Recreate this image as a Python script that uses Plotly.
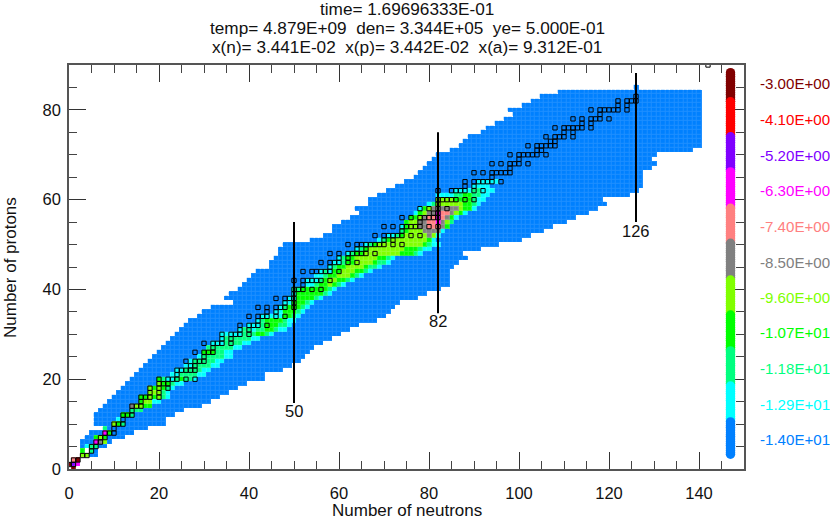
import numpy as np
import plotly.graph_objects as go

# ---- abundance legend ----
level_labels = ["-1.40E+01","-1.29E+01","-1.18E+01","-1.07E+01","-9.60E+00","-8.50E+00",
                "-7.40E+00","-6.30E+00","-5.20E+00","-4.10E+00","-3.00E+00"]
level_colors = ["#0080ff","#00ffff","#00ff80","#00ff00","#80ff00","#808080",
                "#ff8080","#ff00ff","#8000ff","#ff0000","#800000"]
level_soft = ["#1f8fff","#33ffff","#33ff99","#33ff33","#99ff33","#999999",
              "#ff9999","#ff33ff","#9933ff","#ff3333","#993333"]
level_label_z = [6.5,14.4,22.3,30.3,38.2,46.1,54.1,62.0,69.9,77.9,85.8]
level_bar_top = [10.5,18.5,26.3,34.3,42.1,50.3,58.1,66.2,74.0,81.8,88.3]
level_bar_bottom = 3.1

# ---- network extent: lowest / highest neutron number for each proton number ----
row_z = list(range(3, 85))
row_nmin = [3,3,3,3,4,5,8,6,6,6,7,8,9,10,11,12,13,14,15,16,17,18,19,20,21,22,23,24,25,26,27,29,30,32,
            37,35,36,38,39,40,41,42,45,45,46,47,47,48,54,57,59,59,61,63,65,64,67,67,69,71,73,75,77,78,
            79,80,81,82,85,87,88,89,92,93,95,97,99,98,101,103,105,109]
row_nmax = [6,6,8,9,12,14,17,21,21,23,25,29,31,33,35,37,39,43,43,47,49,51,52,53,54,56,58,60,62,64,68,
            70,71,72,73,77,79,82,84,84,84,84,85,86,88,87,91,95,100,102,105,107,110,112,115,117,119,118,
            124,126,127,127,127,127,129,130,129,130,138,140,140,140,140,140,140,140,140,140,140,140,140,140]
extra_cell = (85, 126)

# ---- mass-fraction level per cell: proton number -> (first neutron number, level codes)
# codes: 0-9, a = level index; W = empty cell
band_rows = {
 0:(1,"a"),1:(0,"a87"),2:(1,"6a"),3:(3,"44"),4:(3,"3W2"),5:(4,"122"),6:(6,"754"),7:(6,"343"),
 8:(8,"73"),9:(8,"2"),10:(10,"432"),11:(11,"1"),12:(12,"332"),13:(14,"222"),14:(14,"54433"),
 15:(16,"34411"),16:(16,"3343421"),17:(18,"44421"),18:(18,"434321"),19:(20,"433211"),
 20:(20,"321123221"),21:(23,"11222211"),22:(24,"11222211"),23:(26,"11222211"),24:(27,"12222211"),
 25:(29,"12222211"),26:(30,"3332211"),27:(31,"22222211"),28:(32,"111222211"),29:(34,"122222211"),
 30:(34,"111112223321"),31:(38,"12212233211"),32:(40,"1112333221"),33:(42,"123333211"),
 34:(43,"111113321"),35:(46,"1133321"),36:(47,"1233321"),37:(48,"1133321"),38:(49,"11333321"),
 39:(50,"133333321"),40:(50,"2233333321"),41:(53,"112334321"),42:(53,"11123443321"),
 43:(55,"11233444321"),44:(56,"121334443321"),45:(58,"123344443221"),46:(59,"1123344443221"),
 47:(60,"1233444443321"),48:(62,"12334444444433321"),49:(64,"12344444444333211"),
 50:(66,"12344444444443211"),51:(69,"1234444444431"),52:(71,"112344444541"),
 53:(74,"2344455551"),54:(74,"13445566653"),55:(75,"34455667542"),56:(76,"33456676531"),
 57:(77,"134557665431"),58:(78,"1345555554331"),59:(80,"124444443321"),
 60:(82,"44443333211"),61:(82,"111122332211"),62:(86,"111122111"),63:(90,"1111"),64:(91,"11111"),
}

# ---- stable isotopes: proton number -> neutron numbers ----
stable = {
 1:[0,1],2:[1,2],3:[3,4],4:[5],5:[5,6],6:[6,7],7:[7,8],8:[8,9,10],9:[10],10:[10,11,12],11:[12],
 12:[12,13,14],13:[14],14:[14,15,16],15:[16],16:[16,17,18,20],17:[18,20],18:[18,20,22],19:[20,21,22],
 20:[20,22,23,24,26,28],21:[24],22:[24,25,26,27,28],23:[27,28],24:[26,28,29,30],25:[30],26:[28,30,31,32],
 27:[32],28:[30,32,33,34,36],29:[34,36],30:[34,36,37,38,40],31:[38,40],32:[38,40,41,42,44],33:[42],
 34:[40,42,43,44,46,48],35:[44,46],36:[42,44,46,47,48,50],37:[48,50],38:[46,48,49,50],39:[50],
 40:[50,51,52,54,56],41:[52],42:[50,52,53,54,55,56,58],44:[52,54,55,56,57,58,60],45:[58],
 46:[56,58,59,60,62,64],47:[60,62],48:[58,60,62,63,64,65,66,68],49:[64,66],
 50:[62,64,65,66,67,68,69,70,72,74],51:[70,72],52:[68,70,71,72,73,74,76,78],53:[74],
 54:[70,72,74,75,76,77,78,80,82],55:[78],56:[74,76,78,79,80,81,82],57:[81,82],58:[78,80,82,84],59:[82],
 60:[82,83,84,85,86,88,90],62:[82,85,86,87,88,90,92],63:[88,90],64:[88,90,91,92,93,94,96],65:[94],
 66:[90,92,94,95,96,97,98],67:[98],68:[94,96,98,99,100,102],69:[100],70:[98,100,101,102,103,104,106],
 71:[104,105],72:[102,104,105,106,107,108],73:[107,108],74:[106,108,109,110,112],75:[110,112],
 76:[108,110,111,112,113,114,116],77:[114,116],78:[112,114,116,117,118,120],79:[118],
 80:[116,118,119,120,121,122,124],81:[122,124],82:[122,124,125,126],83:[126],90:[142],
}

# ---- closed neutron shells ----
magic_n = [50, 82, 126]
magic_low = [14.7, 34.7, 55.0]
magic_high = [55.0, 75.0, 88.2]
magic_label_z = [12.9, 33.0, 53.0]

title_lines = ["time= 1.69696333E-01",
               "temp= 4.879E+09\u00a0\u00a0den= 3.344E+05\u00a0\u00a0ye= 5.000E-01",
               "x(n)= 3.441E-02\u00a0\u00a0x(p)= 3.442E-02\u00a0\u00a0x(a)= 9.312E-01"]
title_px_y = [9, 28, 47]

# ---- figure geometry ----
W, H = 830, 519
L, R, T, B = 69, 744, 65, 469
X_RANGE, Y_RANGE = [0, 150], [0, 90]
FONT = "Liberation Sans"
INK = "#111111"

grid = np.full((Y_RANGE[1] + 1, X_RANGE[1] + 1), np.nan)
for z, a, b in zip(row_z, row_nmin, row_nmax):
    grid[z, a:b + 1] = 0
grid[extra_cell] = 0
for z, (start, codes) in band_rows.items():
    for k, c in enumerate(codes):
        grid[z, start + k] = np.nan if c == "W" else int(c, 16) if c != "a" else 10

n = len(level_colors)
def steps(cols):
    out = []
    for i, c in enumerate(cols):
        out += [[i / n, c], [(i + 1) / n, c]]
    return out

fig = go.Figure()
hm = dict(z=grid, x=np.arange(grid.shape[1]), y=np.arange(grid.shape[0]),
          zmin=-0.5, zmax=n - 0.5, showscale=False, hoverongaps=False)
fig.add_trace(go.Heatmap(colorscale=steps(level_soft), **hm))
fig.add_trace(go.Heatmap(colorscale=steps(level_colors), xgap=1, ygap=1, **hm))

sx = [v for z, ns in stable.items() for v in ns]
sy = [z for z, ns in stable.items() for _ in ns]
fig.add_trace(go.Scatter(x=sx, y=sy, mode="markers", showlegend=False,
                         marker=dict(symbol="square-open", size=4.3, color="#000000",
                                     line=dict(width=1, color="#000000"))))

for m, lo, hi in zip(magic_n, magic_low, magic_high):
    fig.add_trace(go.Scatter(x=[m, m], y=[lo, hi], mode="lines", showlegend=False,
                             line=dict(color="#000000", width=2)))

# legend bar: one stack of overlapping discs per level, drawn top level first
bar_x, bar_y, bar_c = [], [], []
lower = [level_bar_bottom] + level_bar_top[:-1]
for i in range(n - 1, -1, -1):
    zs = np.arange(level_bar_top[i], lower[i] - 0.01, -0.4)
    bar_x += [147.0] * len(zs)
    bar_y += list(zs)
    bar_c += [level_colors[i]] * len(zs)
fig.add_trace(go.Scatter(x=bar_x, y=bar_y, mode="markers", showlegend=False, cliponaxis=False,
                         marker=dict(symbol="circle", size=9.4, color=bar_c, line=dict(width=0))))

ann = []
for t, py in zip(title_lines, title_px_y):
    ann.append(dict(text=t, xref="paper", yref="paper", x=(407 - L) / (R - L),
                    y=(B - py) / (B - T), xanchor="center", yanchor="middle", showarrow=False,
                    borderpad=0, font=dict(family=FONT, size=17.2, color=INK)))
for m, z in zip(magic_n, magic_label_z):
    ann.append(dict(text=str(m), x=m, y=z, xref="x", yref="y", showarrow=False,
                    xanchor="center", yanchor="middle",
                    font=dict(family=FONT, size=16.5, color=INK)))
for lab, col, z in zip(level_labels, level_colors, level_label_z):
    ann.append(dict(text=lab, x=(758 - L) / (R - L), y=z, xref="paper", yref="y", showarrow=False,
                    xanchor="left", yanchor="middle", font=dict(family=FONT, size=15.1, color=col)))
ann.append(dict(text="Number of neutrons", xref="paper", yref="paper", x=(407 - L) / (R - L),
                y=(B - 510.5) / (B - T), xanchor="center", yanchor="middle", showarrow=False,
                font=dict(family=FONT, size=17, color=INK)))
ann.append(dict(text="Number of protons", xref="paper", yref="paper", x=(10 - L) / (R - L),
                y=(B - 268) / (B - T), xanchor="center", yanchor="middle", textangle=-90, showarrow=False,
                font=dict(family=FONT, size=17, color=INK)))

axis = dict(showline=True, linecolor="#555555", linewidth=1.5, mirror="ticks", showgrid=False,
            zeroline=False, ticks="inside", ticklen=17, tickwidth=1, tickcolor="#333333",
            dtick=20, tick0=0, layer="below traces",
            minor=dict(ticks="inside", ticklen=8, tickwidth=1, tickcolor="#444444", dtick=5, tick0=0, showgrid=False),
            tickfont=dict(family=FONT, size=16.5, color=INK))

fig.update_layout(
    width=W, height=H, margin=dict(l=L, r=W - R, t=T, b=H - B, pad=0),
    paper_bgcolor="white", plot_bgcolor="white", showlegend=False, annotations=ann,
    xaxis=dict(axis, range=X_RANGE, ticklabelstandoff=8),
    yaxis=dict(axis, range=Y_RANGE, ticklabelstandoff=3),
)
fig.write_html("out.html", config=dict(displayModeBar=False),
               post_script="document.body.style.margin='0';document.body.style.overflow='hidden';")
